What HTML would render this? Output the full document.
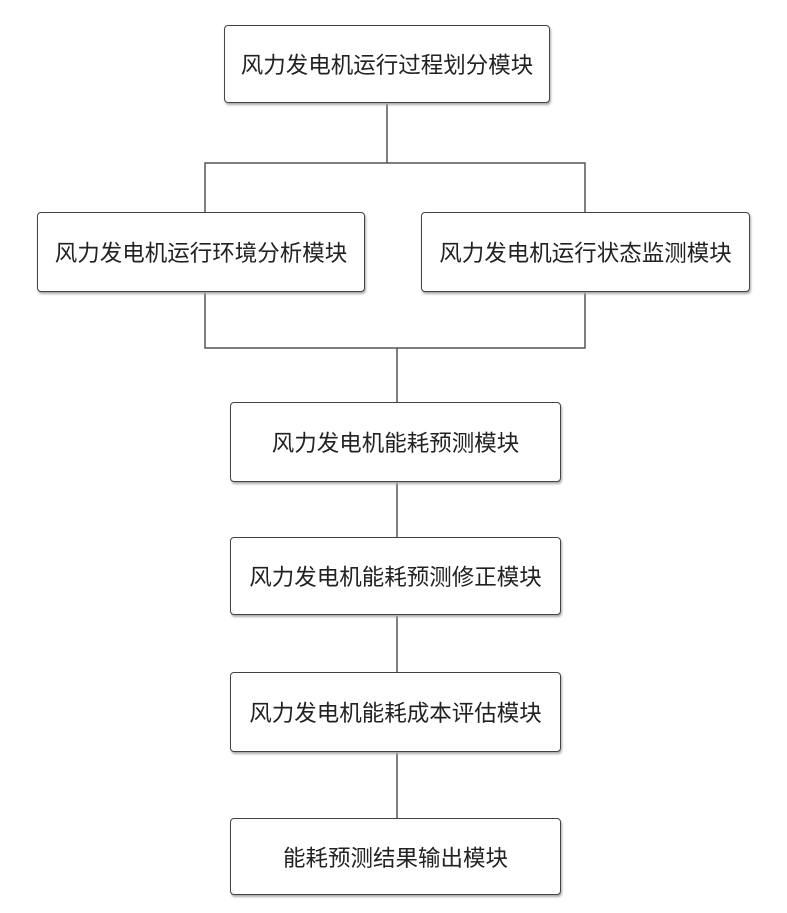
<!DOCTYPE html>
<html><head><meta charset="utf-8"><style>
body{margin:0;background:#fff;}
.b{position:absolute;border:1.5px solid #444;border-radius:4px;box-shadow:1px 2px 2px #aaa;background:#fff;display:flex;align-items:center;justify-content:center;font-family:"Liberation Sans","Noto Sans CJK SC",sans-serif;font-size:22.5px;color:#222;box-sizing:border-box;}
</style></head><body>
<div style="position:relative;width:787px;height:913px;">
<svg width="787" height="913" style="position:absolute;left:0;top:0" fill="none" stroke="#555" stroke-width="1.5">
<path d="M387 102V163M205 212V163H585V212M205 292V348H585V292M397 348V402M397 482V537M397 615V672M397 752V818"/>
</svg>
<div class="b" style="left:224px;top:25px;width:326px;height:78px;">风力发电机运行过程划分模块</div>
<div class="b" style="left:37px;top:212px;width:328px;height:80px;">风力发电机运行环境分析模块</div>
<div class="b" style="left:421px;top:212px;width:329px;height:80px;">风力发电机运行状态监测模块</div>
<div class="b" style="left:230px;top:402px;width:331px;height:80px;">风力发电机能耗预测模块</div>
<div class="b" style="left:230px;top:537px;width:331px;height:78px;">风力发电机能耗预测修正模块</div>
<div class="b" style="left:230px;top:672px;width:331px;height:80px;">风力发电机能耗成本评估模块</div>
<div class="b" style="left:230px;top:818px;width:331px;height:77px;">能耗预测结果输出模块</div>
</div>
</body></html>
